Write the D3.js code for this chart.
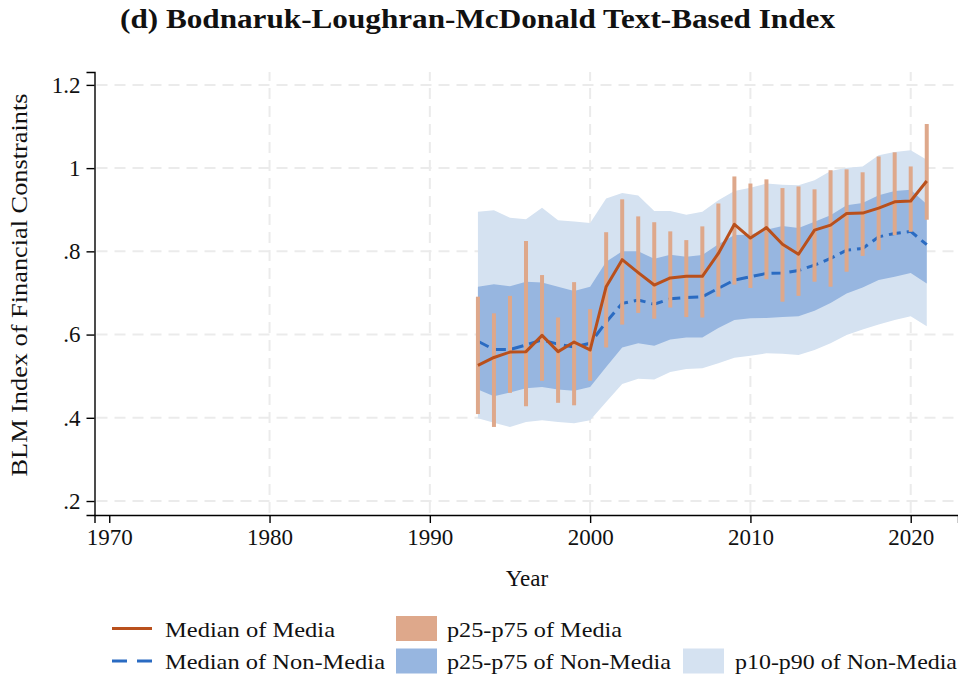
<!DOCTYPE html>
<html>
<head>
<meta charset="utf-8">
<script src="https://cdn.jsdelivr.net/npm/d3@7"></script>
<style>
  html, body { margin: 0; padding: 0; background: #fff; }
  svg { display: block; }
  text { font-family: "Liberation Serif", "Times New Roman", serif; fill: #111; }
</style>
</head>
<body>
<svg id="chart" width="958" height="675"></svg>
<script>
// ---------------- data ----------------
const years = [1993,1994,1995,1996,1997,1998,1999,2000,2001,2002,2003,2004,2005,2006,2007,
               2008,2009,2010,2011,2012,2013,2014,2015,2016,2017,2018,2019,2020,2021];

const mediaMedian = [0.526,0.545,0.558,0.559,0.598,0.559,0.582,0.563,0.715,0.780,0.749,0.719,0.736,0.740,0.740,
                     0.795,0.865,0.832,0.857,0.817,0.793,0.851,0.863,0.891,0.892,0.904,0.919,0.921,0.969];
const mediaP25 = [0.409,0.378,0.460,0.428,0.489,0.436,0.430,0.489,0.569,0.624,0.652,0.638,0.665,0.642,0.641,
                  0.691,0.720,0.712,0.733,0.679,0.693,0.727,0.715,0.751,0.789,0.803,0.839,0.847,0.876];
const mediaP75 = [0.691,0.651,0.693,0.825,0.743,0.641,0.726,0.661,0.846,0.925,0.884,0.870,0.848,0.827,0.860,
                  0.915,0.980,0.963,0.973,0.952,0.956,0.949,0.995,0.997,0.990,1.028,1.038,1.004,1.106];

const nonMedian = [0.584,0.564,0.564,0.575,0.587,0.577,0.570,0.579,0.630,0.675,0.683,0.673,0.686,0.689,0.691,
                   0.711,0.731,0.739,0.747,0.748,0.754,0.767,0.783,0.803,0.807,0.835,0.843,0.848,0.816];
const nonP25 = [0.468,0.452,0.461,0.471,0.474,0.468,0.465,0.474,0.522,0.569,0.579,0.573,0.588,0.593,0.593,
                0.616,0.635,0.639,0.640,0.642,0.644,0.657,0.676,0.699,0.713,0.731,0.739,0.748,0.723];
const nonP75 = [0.715,0.721,0.716,0.727,0.725,0.715,0.705,0.715,0.775,0.800,0.800,0.782,0.792,0.787,0.791,
                0.817,0.839,0.840,0.852,0.861,0.856,0.871,0.887,0.911,0.916,0.935,0.945,0.948,0.913];
const nonP10 = [0.399,0.388,0.378,0.390,0.394,0.390,0.387,0.394,0.438,0.481,0.494,0.492,0.510,0.517,0.519,
                0.531,0.544,0.549,0.555,0.554,0.551,0.563,0.579,0.599,0.612,0.624,0.635,0.644,0.620];
const nonP90 = [0.895,0.899,0.881,0.877,0.905,0.875,0.872,0.868,0.927,0.940,0.934,0.897,0.897,0.888,0.895,
                0.923,0.945,0.953,0.963,0.960,0.959,0.971,0.993,1.001,1.004,1.031,1.039,1.043,1.020];

const xTicks = [1970,1980,1990,2000,2010,2020];
const yTicks = [0.2,0.4,0.6,0.8,1.0,1.2];
const yTickLabels = [".2",".4",".6",".8","1","1.2"];

const titleText = "(d) Bodnaruk-Loughran-McDonald Text-Based Index";
const xTitle = "Year";
const yTitle = "BLM Index of Financial Constraints";
const legendLabels = ["Median of Media","p25-p75 of Media","Median of Non-Media","p25-p75 of Non-Media","p10-p90 of Non-Media"];

// ---------------- styles ----------------
const C = {
  orangeLine: "#b9501c",
  orangeBar: "#dea88b",
  blueLine: "#2a6bc2",
  bandDark: "#97b6e0",
  bandLight: "#d5e2f1",
  grid: "#ebebeb"
};

const svg = d3.select("#chart");

// scales (axis lines span slightly beyond the tick range, as in the original)
const x = d3.scaleLinear().domain([1969.08, 2022.95]).range([94.5, 958]);
const y = d3.scaleLinear().domain([0.1664, 1.231]).range([515, 72]);

const rows = years.map((yr, i) => ({
  yr, mm: mediaMedian[i], m25: mediaP25[i], m75: mediaP75[i],
  nm: nonMedian[i], n25: nonP25[i], n75: nonP75[i], n10: nonP10[i], n90: nonP90[i]
}));

// gridlines
const grid = svg.append("g");
grid.selectAll("line.h").data(yTicks).join("line")
  .attr("x1", x.range()[0] + 2).attr("x2", x.range()[1])
  .attr("y1", d => y(d)).attr("y2", d => y(d))
  .attr("stroke", C.grid).attr("stroke-width", 2).attr("stroke-dasharray", "11,7");
grid.selectAll("line.v").data(xTicks.slice(1)).join("line")
  .attr("x1", d => x(d)).attr("x2", d => x(d))
  .attr("y1", y.range()[0] - 2).attr("y2", y.range()[1])
  .attr("stroke", C.grid).attr("stroke-width", 2).attr("stroke-dasharray", "11,7");

// bands
svg.append("path").datum(rows)
  .attr("fill", C.bandLight)
  .attr("d", d3.area().x(d => x(d.yr)).y0(d => y(d.n10)).y1(d => y(d.n90)));
svg.append("path").datum(rows)
  .attr("fill", C.bandDark)
  .attr("d", d3.area().x(d => x(d.yr)).y0(d => y(d.n25)).y1(d => y(d.n75)));

// non-media median (dashed)
svg.append("path").datum(rows)
  .attr("fill", "none").attr("stroke", C.blueLine).attr("stroke-width", 3)
  .attr("stroke-dasharray", "12,6")
  .attr("d", d3.line().x(d => x(d.yr)).y(d => y(d.nm)));

// media p25-p75 spikes
svg.append("g").selectAll("line").data(rows).join("line")
  .attr("x1", d => x(d.yr)).attr("x2", d => x(d.yr))
  .attr("y1", d => y(d.m25)).attr("y2", d => y(d.m75))
  .attr("stroke", C.orangeBar).attr("stroke-width", 4);

// media median
svg.append("path").datum(rows)
  .attr("fill", "none").attr("stroke", C.orangeLine).attr("stroke-width", 3)
  .attr("stroke-linejoin", "round")
  .attr("d", d3.line().x(d => x(d.yr)).y(d => y(d.mm)));

// axes
const xAxis = svg.append("g").attr("transform", `translate(0,${y.range()[0]})`)
  .call(d3.axisBottom(x).tickValues(xTicks).tickFormat(d3.format("d")).tickSizeOuter(0).tickSize(8).tickPadding(6));
const yAxis = svg.append("g").attr("transform", `translate(${x.range()[0]},0)`)
  .call(d3.axisLeft(y).tickValues(yTicks).tickFormat((d, i) => yTickLabels[i]).tickSizeOuter(0).tickSize(8).tickPadding(6));
[xAxis, yAxis].forEach(a => {
  a.select(".domain").attr("stroke", "#000").attr("stroke-width", 1.4);
  a.selectAll(".tick line").attr("stroke", "#000").attr("stroke-width", 1.4);
  a.selectAll(".tick text").attr("font-family", "Liberation Serif, serif").attr("font-size", 23).attr("fill", "#111");
});

// titles
svg.append("text").attr("x", 477.5).attr("y", 28).attr("text-anchor", "middle")
  .attr("font-size", 27).attr("font-weight", "bold")
  .attr("textLength", 715).attr("lengthAdjust", "spacingAndGlyphs")
  .text(titleText);
svg.append("text").attr("x", 527).attr("y", 586).attr("text-anchor", "middle")
  .attr("font-size", 23).text(xTitle);
svg.append("text").attr("transform", "translate(27,285) rotate(-90)").attr("text-anchor", "middle")
  .attr("font-size", 23).attr("textLength", 383).attr("lengthAdjust", "spacingAndGlyphs")
  .text(yTitle);

// legend
const lg = svg.append("g");
const col1 = 112, col2 = 396, col3 = 683, row1 = 628.5, row2 = 661;
const textLens = [170, 175, 220, 224, 222];
// line samples
lg.append("line").attr("x1", col1).attr("x2", col1 + 40).attr("y1", row1).attr("y2", row1)
  .attr("stroke", C.orangeLine).attr("stroke-width", 3);
lg.append("line").attr("x1", col1).attr("x2", col1 + 40).attr("y1", row2).attr("y2", row2)
  .attr("stroke", C.blueLine).attr("stroke-width", 3).attr("stroke-dasharray", "15,10");
// swatches
lg.append("rect").attr("x", col2).attr("y", row1 - 12.5).attr("width", 41).attr("height", 25).attr("fill", C.orangeBar);
lg.append("rect").attr("x", col2).attr("y", row2 - 12.5).attr("width", 41).attr("height", 25).attr("fill", C.bandDark);
lg.append("rect").attr("x", col3).attr("y", row2 - 12.5).attr("width", 41).attr("height", 25).attr("fill", C.bandLight);
const labelPos = [[col1 + 53, row1], [col2 + 51, row1], [col1 + 53, row2], [col2 + 51, row2], [col3 + 52, row2]];
legendLabels.forEach((t, i) => {
  lg.append("text").attr("x", labelPos[i][0]).attr("y", labelPos[i][1] + 8)
    .attr("font-size", 22).attr("textLength", textLens[i]).attr("lengthAdjust", "spacingAndGlyphs")
    .text(t);
});
</script>
</body>
</html>
